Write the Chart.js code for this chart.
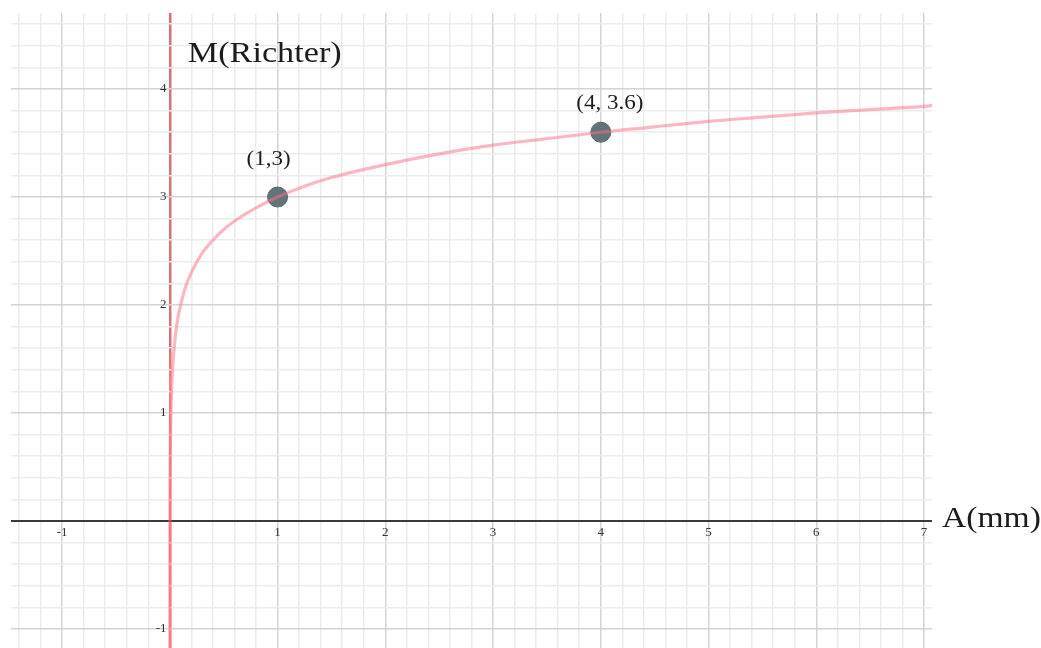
<!DOCTYPE html>
<html><head><meta charset="utf-8">
<script src="https://cdn.jsdelivr.net/npm/chart.js@4.4.1/dist/chart.umd.min.js"></script>
<style>html,body{margin:0;padding:0;background:#fff;overflow:hidden;}#wrap{width:1041px;height:659px;position:relative;}</style>
</head><body><div id="wrap"><canvas id="c"></canvas></div>
<script>
// Curve: amplitude A (mm) -> magnitude M (Richter)
const curveA = [0.00006, 0.0001, 0.0005, 0.002, 0.004, 0.007, 0.01, 0.02, 0.035, 0.05, 0.075, 0.1, 0.15, 0.2, 0.3, 0.4, 0.5, 0.65, 0.8, 1, 1.25, 1.5, 2, 2.5, 3, 3.5, 4, 4.5, 5, 5.5, 6, 6.5, 7, 7.1];
const curveM = [-1.2, -1.0, -0.3, 0.3, 0.6, 0.85, 1.0, 1.3, 1.54, 1.7, 1.88, 2.0, 2.18, 2.3, 2.48, 2.6, 2.7, 2.81, 2.9, 3.0, 3.1, 3.18, 3.3, 3.4, 3.48, 3.54, 3.6, 3.65, 3.7, 3.74, 3.78, 3.81, 3.84, 3.85];
// Marked points
const markedA = [1, 4];
const markedM = [3, 3.6];
const markedLabels = ['(1,3)', '(4, 3.6)'];
// Tick labels
const xTickValues = [-1, 1, 2, 3, 4, 5, 6, 7];
const xTickLabels = ['-1', '1', '2', '3', '4', '5', '6', '7'];
const yTickValues = [-1, 1, 2, 3, 4];
const yTickLabels = ['-1', '1', '2', '3', '4'];
const xTitle = 'A(mm)';
const yTitle = 'M(Richter)';

const curveData = curveA.map((a, i) => ({x: a, y: curveM[i]}));
const markedData = markedA.map((a, i) => ({x: a, y: markedM[i]}));

const near = (a, b) => Math.abs(a - b) < 1e-6;
const isInt = v => near(v, Math.round(v));

function drawStretched(ctx, text, x, y, font, sx, align) {
  ctx.save();
  ctx.font = font;
  ctx.textAlign = align;
  ctx.textBaseline = 'alphabetic';
  ctx.translate(x, y);
  ctx.scale(sx, 1);
  ctx.fillText(text, 0, 0);
  ctx.restore();
}

const labelOffsets = [[-9, -32], [9, -23]];

const textPlugin = {
  id: 'texts',
  afterDatasetsDraw(chart) {
    const {ctx, chartArea, scales: {x, y}} = chart;
    ctx.save();
    ctx.fillStyle = '#1c1c1c';
    drawStretched(ctx, yTitle, x.getPixelForValue(0) + 18, chartArea.top + 49, '30px "Liberation Serif"', 1.14, 'left');
    drawStretched(ctx, xTitle, chartArea.right + 10, y.getPixelForValue(0) + 6, '30px "Liberation Serif"', 1.12, 'left');
    const meta = chart.getDatasetMeta(1);
    meta.data.forEach((pt, i) => {
      drawStretched(ctx, markedLabels[i], pt.x + labelOffsets[i][0], pt.y + labelOffsets[i][1], '20px "Liberation Serif"', 1.15, 'center');
    });
    ctx.restore();
  }
};

function yAxisColor(c) {
  const chart = c.chart, area = chart.chartArea;
  if (!area) return '#d9727b';
  const ys = chart.scales.y;
  const g = chart.ctx.createLinearGradient(0, area.top, 0, area.bottom);
  const f = Math.min(1, Math.max(0, (ys.getPixelForValue(1.55) - area.top) / (area.bottom - area.top)));
  g.addColorStop(0, '#d6707a');
  g.addColorStop(f, '#d9727b');
  g.addColorStop(Math.min(1, f + 0.04), '#ff7c84');
  g.addColorStop(1, '#ff7c84');
  return g;
}

new Chart(document.getElementById('c'), {
  type: 'scatter',
  data: {
    datasets: [
      {
        data: curveData,
        showLine: true,
        borderColor: 'rgba(255,110,135,0.5)',
        borderWidth: 3.2,
        pointRadius: 0,
        cubicInterpolationMode: 'monotone',
        fill: false
      },
      {
        data: markedData,
        showLine: false,
        pointRadius: 10,
        pointBackgroundColor: '#627479',
        pointBorderColor: '#55666b',
        pointBorderWidth: 1
      }
    ]
  },
  options: {
    responsive: true,
    maintainAspectRatio: false,
    animation: false,
    layout: {padding: {left: 10, top: 13, right: 109, bottom: 0}},
    plugins: {legend: {display: false}, tooltip: {enabled: false}},
    scales: {
      x: {
        type: 'linear',
        min: -1.474,
        max: 7.074,
        position: {y: 0},
        afterBuildTicks: s => {
          const t = [];
          for (let i = -7; i <= 35; i++) t.push({value: i / 5});
          s.ticks = t;
        },
        grid: {
          drawTicks: false,
          color: c => near(c.tick.value, 0) ? yAxisColor(c) : (isInt(c.tick.value) ? '#d3d3d3' : '#ececec'),
          lineWidth: c => near(c.tick.value, 0) ? 2.5 : 1.5
        },
        border: {display: false},
        ticks: {
          autoSkip: false,
          maxRotation: 0,
          padding: 4,
          color: '#333',
          font: {family: '"Liberation Serif"', size: 13},
          callback: v => {
            const i = xTickValues.findIndex(t => near(t, v));
            return i >= 0 ? xTickLabels[i] : '';
          }
        }
      },
      y: {
        type: 'linear',
        min: -1.176,
        max: 4.704,
        position: {x: 0},
        afterBuildTicks: s => {
          const t = [];
          for (let i = -5; i <= 23; i++) t.push({value: i / 5});
          s.ticks = t;
        },
        grid: {
          drawTicks: false,
          color: c => near(c.tick.value, 0) ? '#3a3a3a' : (isInt(c.tick.value) ? '#d3d3d3' : '#ececec'),
          lineWidth: c => near(c.tick.value, 0) ? 2 : 1.5
        },
        border: {display: false},
        ticks: {
          autoSkip: false,
          padding: 0,
          color: '#333',
          font: {family: '"Liberation Serif"', size: 13},
          callback: v => {
            const i = yTickValues.findIndex(t => near(t, v));
            return i >= 0 ? yTickLabels[i] + ' ' : '';
          }
        }
      }
    }
  },
  plugins: [textPlugin]
});
</script>
</body></html>
